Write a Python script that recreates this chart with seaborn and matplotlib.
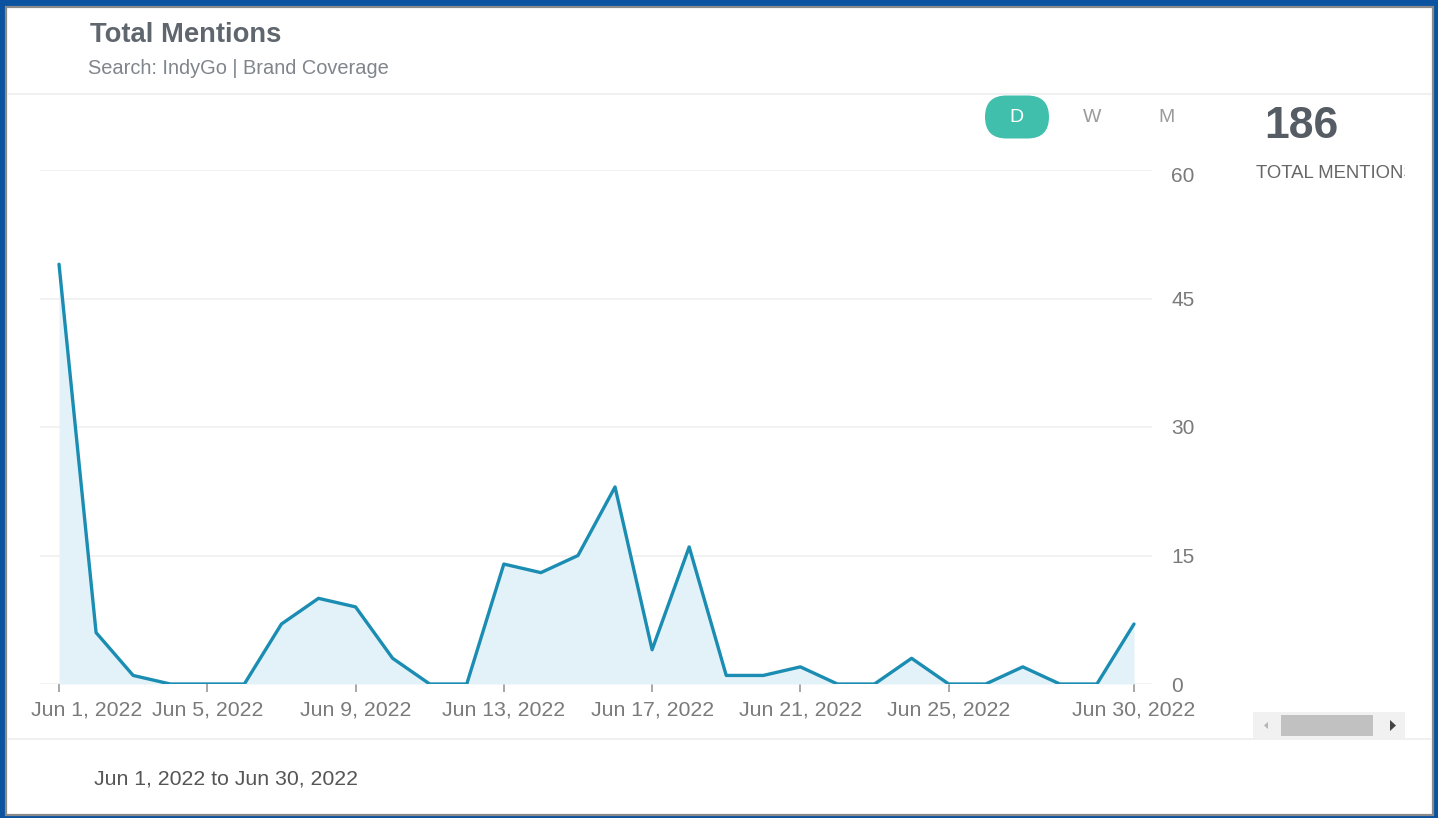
import matplotlib
matplotlib.use("Agg")
import matplotlib.pyplot as plt
import matplotlib.dates as mdates
import matplotlib.transforms as mtransforms
from matplotlib.patches import Rectangle, FancyBboxPatch, Polygon
import numpy as np
import pandas as pd
import seaborn as sns

# ---- data -------------------------------------------------------------
dates = pd.date_range("2022-06-01", "2022-06-30", freq="D")
mentions = [49, 6, 1, 0, 0, 0, 7, 10, 9, 3,
            0, 0, 14, 13, 15, 23, 4, 16, 1, 1,
            2, 0, 0, 3, 0, 0, 2, 0, 0, 7]
tick_dates = pd.to_datetime(["2022-06-01", "2022-06-05", "2022-06-09", "2022-06-13",
                             "2022-06-17", "2022-06-21", "2022-06-25", "2022-06-30"])
tick_labels = ["Jun 1, 2022", "Jun 5, 2022", "Jun 9, 2022", "Jun 13, 2022",
               "Jun 17, 2022", "Jun 21, 2022", "Jun 25, 2022", "Jun 30, 2022"]
y_ticks = [0, 15, 30, 45, 60]
total_label = "186"
title = "Total Mentions"
subtitle = "Search: IndyGo | Brand Coverage"
range_label = "Jun 1, 2022 to Jun 30, 2022"
period_buttons = ["D", "W", "M"]

df = pd.DataFrame({"date": dates, "mentions": mentions})

# ---- style --------------------------------------------------------------
sns.set_theme(style="white")
plt.rcParams["font.family"] = ["Liberation Sans", "DejaVu Sans"]

W, H = 1438, 818
fig = plt.figure(figsize=(W / 100, H / 100), dpi=100)
fig.patch.set_facecolor("#0b52a0")

LINE = "#1b8db2"
FILL = "#e2f2f8"

# background layer in pixel coordinates (y grows downward)
bg = fig.add_axes([0, 0, 1, 1], zorder=0)
bg.set_xlim(0, W)
bg.set_ylim(H, 0)
bg.axis("off")

# white card with grey rim
bg.add_patch(Rectangle((6, 7), 1427, 808, facecolor="white",
                       edgecolor="#8a8a8a", linewidth=1.6))
# separators
bg.plot([8, 1431], [94, 94], color="#ededed", lw=1.2)
bg.plot([8, 1431], [739, 739], color="#ededed", lw=1.2)

# header texts
bg.text(90, 35, title, fontsize=19.7, fontweight="bold", color="#5f666e",
        ha="left", va="center")
bg.text(88, 69, subtitle, fontsize=14.4, color="#7f858b", ha="left", va="center")

# period selector
bg.add_patch(FancyBboxPatch((985, 95.5), 64, 43,
                            boxstyle="round,pad=0,rounding_size=21.5",
                            facecolor="#40bfad", edgecolor="none"))
for lbl, xc in zip(period_buttons, [1016, 1092, 1166]):
    bg.text(xc, 118, lbl, fontsize=14, ha="center", va="center",
            color="white" if lbl == "D" else "#9a9a9a")

# total block
bg.text(1264, 126, total_label, fontsize=32, fontweight="bold",
        color="#555c64", ha="left", va="center")
side = fig.add_axes([1245 / W, 1 - 200 / H, (1405 - 1245) / W, 50 / H], zorder=1)
side.set_xlim(1245, 1405)
side.set_ylim(200, 150)
side.axis("off")
side.text(1256, 173, "TOTAL MENTIONS", fontsize=13.3, color="#666666",
          ha="left", va="center", clip_on=True)

# scrollbar
bg.add_patch(Rectangle((1253, 712), 152, 26, facecolor="#f1f1f1", edgecolor="none"))
bg.add_patch(Rectangle((1281, 715), 92, 21, facecolor="#c1c1c1", edgecolor="none"))
bg.add_patch(Polygon([[1268, 722], [1268, 729], [1264, 725.5]], closed=True,
                     facecolor="#b5b5b5", edgecolor="none"))
bg.add_patch(Polygon([[1390, 720], [1390, 731], [1396, 725.5]], closed=True,
                     facecolor="#444444", edgecolor="none"))

# range label
bg.text(94, 779, range_label, fontsize=15.3, color="#555555", ha="left", va="center")

# ---- chart --------------------------------------------------------------
left_px, right_px, top_px, bottom_px = 40, 1152, 170, 684
ax = fig.add_axes([left_px / W, 1 - bottom_px / H,
                   (right_px - left_px) / W, (bottom_px - top_px) / H], zorder=2)
ax.patch.set_alpha(0)

ax.fill_between(df["date"], 0, df["mentions"], color=FILL, linewidth=0, zorder=1)
sns.lineplot(data=df, x="date", y="mentions", ax=ax, color=LINE,
             linewidth=2.4, zorder=3)

x0 = mdates.date2num(dates[0])
x1 = mdates.date2num(dates[-1])
ax.set_xlim(x0 - 0.513, x1 + 0.486)
ax.set_ylim(0, 60)

ax.set_yticks(y_ticks)
ax.set_yticklabels([str(v) for v in y_ticks])
ax.set_xticks(mdates.date2num(tick_dates))
ax.set_xticklabels(tick_labels)

ax.grid(axis="y", color="#efefef", linewidth=1.1)
ax.grid(axis="x", visible=False)
for s in ax.spines.values():
    s.set_visible(False)

ax.yaxis.tick_right()
ax.tick_params(axis="y", length=0, pad=14, labelsize=15, labelcolor="#7a7a7a",
               left=False, right=False, labelleft=False, labelright=True)
ax.tick_params(axis="x", length=6, width=1.3, color="#a0a0a0", pad=6,
               labelsize=15.3, labelcolor="#7a7a7a", bottom=True)
for lbl in ax.get_yticklabels():
    lbl.set_horizontalalignment("left")

# keep the first date label inside the card, nudge the top value label down
first = ax.xaxis.get_major_ticks()[0].label1
first.set_transform(first.get_transform() +
                    mtransforms.ScaledTranslation(0.28, 0, fig.dpi_scale_trans))
top = ax.yaxis.get_major_ticks()[-1].label2
top.set_transform(top.get_transform() +
                  mtransforms.ScaledTranslation(0, -0.05, fig.dpi_scale_trans))

ax.set_xlabel("")
ax.set_ylabel("")

fig.savefig("out.png", dpi=100, facecolor=fig.get_facecolor())
